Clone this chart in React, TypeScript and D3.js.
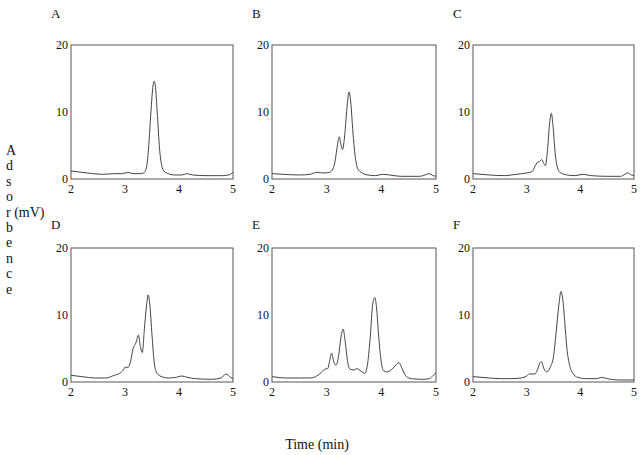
import * as d3 from 'd3';
import React from 'react';

// chromatograms: [time (min), absorbance (mV)]
const traceA: [number, number][] = [
  [2.0, 1.2], [2.2, 1.0], [2.4, 0.8], [2.6, 0.7], [2.8, 0.8], [2.95, 0.8], [3.05, 1.0], [3.15, 0.8],
  [3.3, 0.8], [3.36, 1.0], [3.4, 1.8], [3.44, 5.0], [3.48, 10.0], [3.52, 14.0], [3.54, 14.6], [3.56, 14.0],
  [3.6, 9.5], [3.64, 4.5], [3.68, 2.0], [3.72, 1.2], [3.8, 0.8], [3.9, 0.6], [4.05, 0.6], [4.15, 0.8],
  [4.25, 0.6], [4.5, 0.5], [4.8, 0.5], [4.92, 0.6], [5.0, 1.0],
];
const traceB: [number, number][] = [
  [2.0, 0.8], [2.2, 0.7], [2.5, 0.6], [2.7, 0.7], [2.82, 1.0], [2.95, 0.9], [3.05, 1.0], [3.1, 1.3],
  [3.15, 2.5], [3.2, 5.2], [3.23, 6.3], [3.26, 5.2], [3.29, 4.4], [3.33, 6.5], [3.37, 10.5], [3.41, 13.0],
  [3.44, 11.5], [3.48, 7.0], [3.52, 3.5], [3.57, 1.5], [3.63, 1.0], [3.75, 0.6], [3.9, 0.5], [4.02, 0.7],
  [4.15, 0.6], [4.35, 0.4], [4.7, 0.4], [4.8, 0.6], [4.87, 0.8], [4.95, 0.5], [5.0, 0.4],
];
const traceC: [number, number][] = [
  [2.0, 0.8], [2.3, 0.6], [2.6, 0.5], [2.8, 0.7], [3.0, 0.9], [3.1, 1.1], [3.15, 1.8], [3.2, 2.5],
  [3.24, 2.6], [3.28, 2.9], [3.32, 2.3], [3.35, 2.0], [3.39, 4.5], [3.43, 8.5], [3.46, 9.8], [3.49, 8.0],
  [3.53, 4.0], [3.57, 1.8], [3.62, 1.0], [3.75, 0.6], [3.9, 0.5], [4.05, 0.7], [4.2, 0.5], [4.5, 0.4],
  [4.75, 0.4], [4.83, 0.7], [4.88, 0.9], [4.95, 0.6], [5.0, 0.5],
];
const traceD: [number, number][] = [
  [2.0, 1.0], [2.2, 0.8], [2.45, 0.6], [2.65, 0.6], [2.8, 1.0], [2.9, 1.3], [2.97, 1.8], [3.0, 2.2],
  [3.06, 2.2], [3.1, 3.0], [3.15, 5.0], [3.2, 5.8], [3.25, 7.0], [3.28, 5.5], [3.32, 4.4], [3.36, 8.0],
  [3.4, 11.5], [3.43, 13.0], [3.46, 11.5], [3.5, 7.0], [3.54, 3.0], [3.58, 1.5], [3.65, 0.9], [3.8, 0.6],
  [3.95, 0.7], [4.05, 0.9], [4.15, 0.7], [4.3, 0.5], [4.6, 0.4], [4.78, 0.6], [4.87, 1.2], [4.95, 0.7],
  [5.0, 0.5],
];
const traceE: [number, number][] = [
  [2.0, 0.8], [2.25, 0.6], [2.5, 0.6], [2.7, 0.6], [2.82, 0.9], [2.9, 1.4], [2.96, 1.9], [3.02, 2.0],
  [3.05, 3.0], [3.09, 4.3], [3.13, 3.0], [3.17, 2.5], [3.22, 4.0], [3.26, 6.6], [3.3, 7.9], [3.34, 6.0],
  [3.38, 3.2], [3.43, 1.9], [3.5, 1.8], [3.55, 2.0], [3.63, 1.6], [3.7, 1.3], [3.75, 2.8], [3.8, 7.0],
  [3.84, 11.5], [3.88, 12.6], [3.91, 11.3], [3.95, 7.0], [3.99, 3.5], [4.04, 1.7], [4.1, 1.5], [4.18, 1.8],
  [4.25, 2.4], [4.32, 2.9], [4.38, 2.0], [4.46, 0.8], [4.55, 0.5], [4.75, 0.4], [4.88, 0.5], [4.95, 1.0],
  [5.0, 1.4],
];
const traceF: [number, number][] = [
  [2.0, 0.8], [2.3, 0.6], [2.5, 0.5], [2.7, 0.5], [2.9, 0.6], [3.0, 0.9], [3.05, 1.2], [3.15, 1.2],
  [3.2, 1.8], [3.25, 2.9], [3.28, 3.0], [3.32, 2.0], [3.38, 1.5], [3.44, 2.2], [3.5, 3.8], [3.55, 7.5],
  [3.6, 11.5], [3.64, 13.5], [3.67, 12.5], [3.71, 9.0], [3.75, 5.0], [3.8, 2.5], [3.86, 1.3], [3.95, 0.7],
  [4.1, 0.5], [4.3, 0.5], [4.4, 0.7], [4.5, 0.5], [4.7, 0.3], [5.0, 0.3],
];

const panelLabels = ['A', 'B', 'C', 'D', 'E', 'F'];
const traces = [traceA, traceB, traceC, traceD, traceE, traceF];
const xTicks = [2, 3, 4, 5];
const yTicks = [0, 10, 20];
const yLabelLetters = ['A', 'd', 's', 'o', 'r (mV)', 'b', 'e', 'n', 'c', 'e'];

const cols = [[71, 233], [272, 436], [473, 634]];
const rows = [[45, 179], [248, 382]];
const labelBaselines = [18, 229];
const font = '"Liberation Serif", "Times New Roman", serif';

const Panel = ({ label, data, col, row }) => {
  const [x0, x1] = cols[col];
  const [y0, y1] = rows[row];
  const x = d3.scaleLinear().domain([2, 5]).range([x0, x1]);
  const y = d3.scaleLinear().domain([0, 20]).range([y1, y0]);
  const line = d3.line<[number, number]>()
    .x(d => x(d[0]))
    .y(d => y(d[1]))
    .curve(d3.curveMonotoneX);

  return (
    <g>
      <text x={x0 - 20} y={labelBaselines[row]} fontSize={13} fontFamily={font} fill="#111">{label}</text>
      <rect x={x0} y={y0} width={x1 - x0} height={y1 - y0} fill="none" stroke="#555" strokeWidth={1} />
      {yTicks.map(t => (
        <text key={t} x={x0 - 3} y={y(t) + 4} textAnchor="end" fontSize={12} fontFamily={font} fill="#111">{t}</text>
      ))}
      {xTicks.map(t => (
        <text key={t} x={x(t)} y={y1 + 14} textAnchor="middle" fontSize={12} fontFamily={font} fill="#111">{t}</text>
      ))}
      <path d={line(data) || ''} fill="none" stroke="#444" strokeWidth={1} />
    </g>
  );
};

export default function App() {
  return (
    <svg width={644} height={455} style={{ position: 'absolute', left: 0, top: 0, background: '#fff' }}>
      {traces.map((data, i) => (
        <Panel key={i} label={panelLabels[i]} data={data} col={i % 3} row={Math.floor(i / 3)} />
      ))}
      {yLabelLetters.map((s, i) => (
        <text key={i} x={6} y={155 + i * 15.4} fontSize={14} fontFamily={font} fill="#111">{s}</text>
      ))}
      <text x={317} y={449} textAnchor="middle" fontSize={14} fontFamily={font} fill="#111">Time (min)</text>
    </svg>
  );
}
